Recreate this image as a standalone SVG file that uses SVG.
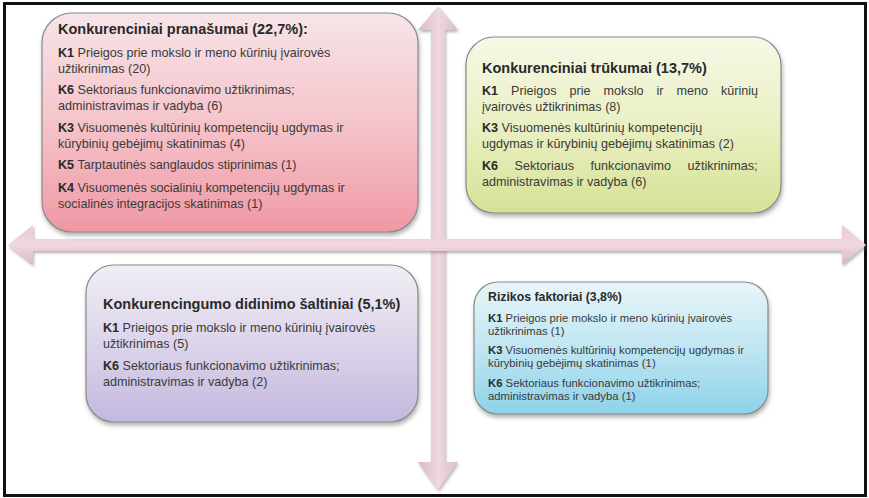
<svg xmlns="http://www.w3.org/2000/svg" width="869" height="498" viewBox="0 0 869 498">
<defs>
<linearGradient id="gPink" x1="0" y1="0" x2="0" y2="1"><stop offset="0" stop-color="#f7e4e7"/><stop offset="0.5" stop-color="#f5c4cb"/><stop offset="1" stop-color="#ef98a4"/></linearGradient>
<linearGradient id="gGreen" x1="0" y1="0" x2="0" y2="1"><stop offset="0" stop-color="#f6f8e6"/><stop offset="0.5" stop-color="#eaf0c4"/><stop offset="1" stop-color="#d6e195"/></linearGradient>
<linearGradient id="gPurple" x1="0" y1="0" x2="0" y2="1"><stop offset="0" stop-color="#f1eef5"/><stop offset="0.5" stop-color="#dcd4ea"/><stop offset="1" stop-color="#c4b8de"/></linearGradient>
<linearGradient id="gBlue" x1="0" y1="0" x2="0" y2="1"><stop offset="0" stop-color="#e8f5f9"/><stop offset="0.5" stop-color="#c0e6f2"/><stop offset="1" stop-color="#8dd2ea"/></linearGradient>
<linearGradient id="gArrowV" x1="0" y1="0" x2="1" y2="0"><stop offset="0" stop-color="#d9b8c2"/><stop offset="0.5" stop-color="#f0d8e0"/><stop offset="1" stop-color="#dcbcc6"/></linearGradient>
<linearGradient id="gArrowH" x1="0" y1="0" x2="0" y2="1"><stop offset="0" stop-color="#e9ccd6"/><stop offset="0.5" stop-color="#f0d6de"/><stop offset="1" stop-color="#d8b8c2"/></linearGradient>
<filter id="sh" x="-10%" y="-10%" width="120%" height="125%"><feDropShadow dx="1" dy="3" stdDeviation="2" flood-color="#555" flood-opacity="0.45"/></filter>
<filter id="ash" x="-10%" y="-10%" width="120%" height="120%"><feDropShadow dx="1" dy="2" stdDeviation="1.5" flood-color="#666" flood-opacity="0.5"/></filter>
</defs>
<style>
text{font-family:"Liberation Sans",Arial,sans-serif;fill:#3a3a3a;font-size:12.6px}
.t{font-weight:bold;font-size:14.5px;fill:#2a2a2a}
.k{font-weight:bold;fill:#2a2a2a}
.box{stroke:#8a8a8a;stroke-width:1.2}
.s{font-size:11.3px}
.ts{font-weight:bold;font-size:12.3px;fill:#2a2a2a}
</style>
<rect x="0" y="0" width="869" height="498" fill="#ffffff"/>
<rect x="4.5" y="3.5" width="861" height="492" fill="none" stroke="#111" stroke-width="3"/>
<g id="connectors">
<polygon points="438,6 458,30 445,30 445,462 458,462 438,490 418,462 431,462 431,30 418,30" fill="url(#gArrowV)" filter="url(#ash)"/>
<polygon points="8,245 33,225 33,239 842,239 842,225 866,245 842,265 842,251 33,251 33,265" fill="url(#gArrowH)" filter="url(#ash)"/>
</g>
<g id="pink">
<rect class="box" x="42" y="13" width="376" height="219" rx="30" fill="url(#gPink)" filter="url(#sh)"/>
<text class="t" x="58" y="34">Konkurenciniai pranašumai (22,7%):</text>
<text x="58" y="57"><tspan class="k">K1</tspan> Prieigos prie mokslo ir meno kūrinių įvairovės</text>
<text x="58" y="73">užtikrinimas (20)</text>
<text x="58" y="94"><tspan class="k">K6</tspan> Sektoriaus funkcionavimo užtikrinimas;</text>
<text x="58" y="110">administravimas ir vadyba (6)</text>
<text x="58" y="132"><tspan class="k">K3</tspan> Visuomenės kultūrinių kompetencijų ugdymas ir</text>
<text x="58" y="148">kūrybinių gebėjimų skatinimas (4)</text>
<text x="58" y="169"><tspan class="k">K5</tspan> Tarptautinės sanglaudos stiprinimas (1)</text>
<text x="58" y="192"><tspan class="k">K4</tspan> Visuomenės socialinių kompetencijų ugdymas ir</text>
<text x="58" y="208">socialinės integracijos skatinimas (1)</text>
</g>
<g id="green">
<rect class="box" x="466" y="37" width="315" height="176" rx="28" fill="url(#gGreen)" filter="url(#sh)"/>
<text class="t" x="482" y="73">Konkurenciniai  trūkumai (13,7%)</text>
<text x="482" y="95" word-spacing="9.5"><tspan class="k">K1</tspan> Prieigos prie mokslo ir meno kūrinių</text>
<text x="482" y="111">įvairovės užtikrinimas (8)</text>
<text x="482" y="132"><tspan class="k">K3</tspan> Visuomenės kultūrinių kompetencijų</text>
<text x="482" y="148">ugdymas ir kūrybinių gebėjimų skatinimas (2)</text>
<text x="482" y="170" word-spacing="13"><tspan class="k">K6</tspan> Sektoriaus funkcionavimo užtikrinimas;</text>
<text x="482" y="186">administravimas ir vadyba (6)</text>
</g>
<g id="purple">
<rect class="box" x="86" y="265" width="332" height="157" rx="28" fill="url(#gPurple)" filter="url(#sh)"/>
<text class="t" x="103" y="309">Konkurencingumo didinimo šaltiniai (5,1%)</text>
<text x="103" y="332"><tspan class="k">K1</tspan> Prieigos prie mokslo ir meno kūrinių įvairovės</text>
<text x="103" y="348">užtikrinimas (5)</text>
<text x="103" y="370"><tspan class="k">K6</tspan> Sektoriaus funkcionavimo užtikrinimas;</text>
<text x="103" y="386">administravimas ir vadyba (2)</text>
</g>
<g id="blue">
<rect class="box" x="474" y="282" width="294" height="132" rx="24" fill="url(#gBlue)" filter="url(#sh)"/>
<text class="ts" x="488" y="301">Rizikos faktoriai (3,8%)</text>
<text class="s" x="488" y="322"><tspan class="k">K1</tspan> Prieigos prie mokslo ir meno kūrinių įvairovės</text>
<text class="s" x="488" y="335">užtikrinimas (1)</text>
<text class="s" x="488" y="354"><tspan class="k">K3</tspan> Visuomenės kultūrinių kompetencijų ugdymas ir</text>
<text class="s" x="488" y="367">kūrybinių gebėjimų skatinimas (1)</text>
<text class="s" x="488" y="387"><tspan class="k">K6</tspan> Sektoriaus funkcionavimo užtikrinimas;</text>
<text class="s" x="488" y="400">administravimas ir vadyba (1)</text>
</g>
</svg>
